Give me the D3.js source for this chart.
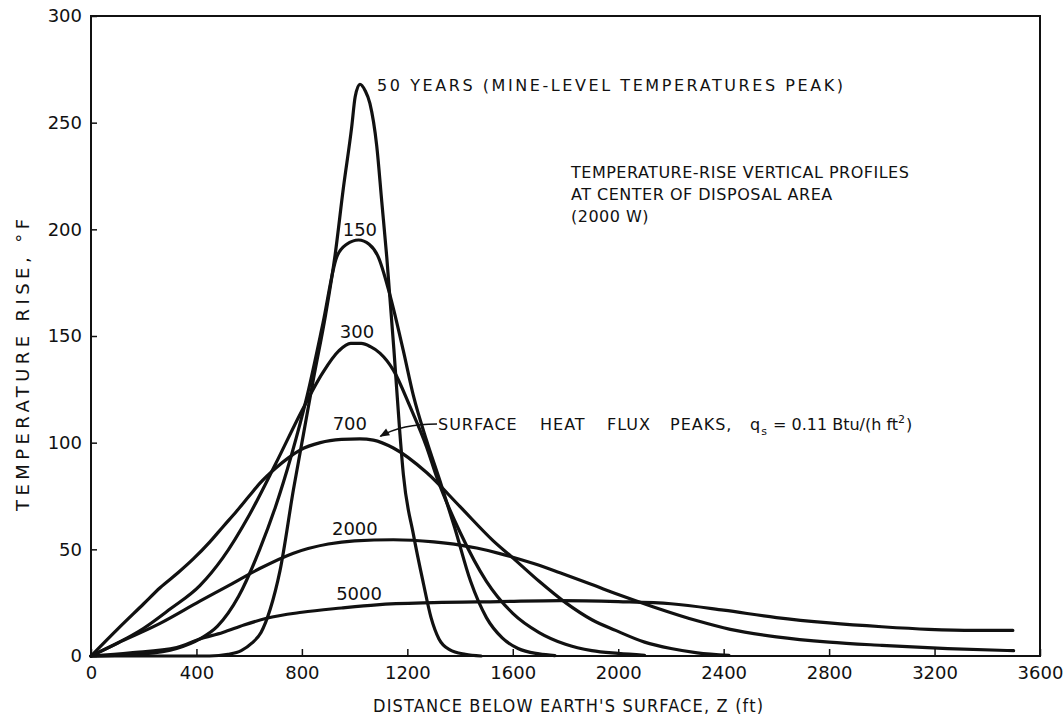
<!DOCTYPE html>
<html>
<head>
<meta charset="utf-8">
<script src="https://cdn.jsdelivr.net/npm/d3@7/dist/d3.min.js"></script>
<style>
  html, body { margin: 0; padding: 0; background: #fff; }
  svg { display: block; }
  text { font-family: "DejaVu Sans", sans-serif; fill: #111; }
</style>
</head>
<body>
<svg id="chart" width="1064" height="723"></svg>
<script>
// ---- Data ----
const depthTicks = [0, 400, 800, 1200, 1600, 2000, 2400, 2800, 3200, 3600];
const tempTicks = [0, 50, 100, 150, 200, 250, 300];

// [depth ft, temperature rise °F]
const yr50 = [[0,0],[450,0],[520,0.8],[570,2.5],[610,6],[645,11],[680,22],[717,40],[768,78],[806,104],[844,130],[890,160],[926,188],[957,219],[989,248],[1002,262],[1020,268],[1040,265],[1058,259],[1084,239],[1103,213],[1122,187],[1150,142],[1172,104],[1185,85],[1223,57],[1261,34],[1290,18],[1320,8],[1360,3],[1420,0.8],[1480,0]];
const yr150 = [[0,0],[200,1],[325,3.5],[413,8],[480,14],[560,28],[640,50],[700,70],[760,94],[820,122],[880,156],[932,187],[970,193],[1015,195],[1055,193],[1090,187],[1128,172],[1147,163],[1185,143],[1223,122],[1273,101],[1324,82],[1380,60],[1440,35],[1500,18],[1560,8.5],[1620,3.5],[1700,1],[1760,0.2]];
const yr300 = [[0,0],[100,6],[200,13],[300,22],[413,33],[500,46],[600,66],[700,90],[800,115],[880,133],[940,143],[985,146.5],[1025,146.5],[1060,145],[1096,142],[1147,134],[1210,117],[1273,98],[1311,84],[1400,58],[1500,35],[1600,20],[1700,11],[1800,5.5],[1900,2.5],[2000,1.2],[2100,0.3]];
const yr700 = [[0,0],[100,12.5],[200,24.5],[262,32],[330,39],[388,45.5],[451,53.5],[500,60.5],[553,68],[600,75],[641,81],[700,88],[750,93],[793,96.5],[870,100],[950,101.5],[1020,101.8],[1071,101.2],[1147,97.5],[1273,86],[1400,70],[1526,54],[1600,46],[1700,35],[1800,25],[1900,17],[1990,12],[2100,6.5],[2200,3.5],[2300,1.5],[2420,0.3]];
const yr2000 = [[0,0],[100,6],[262,15.3],[413,25.7],[515,32.5],[640,41],[768,48.2],[900,52.5],[1000,54],[1147,54.5],[1300,53.5],[1400,52],[1463,50.6],[1551,48],[1600,46.3],[1700,42.5],[1779,39],[1900,33.5],[2000,28.8],[2134,23],[2300,16.5],[2425,12.5],[2600,9],[2800,6.5],[3000,5],[3250,3.5],[3500,2.5]];
const yr5000 = [[0,0],[150,1.5],[325,4],[413,8],[500,11],[580,14.5],[666,17.7],[800,20.5],[950,22.5],[1084,24],[1300,25],[1551,25.5],[1779,26],[2000,25.5],[2200,24.5],[2400,21.5],[2600,18],[2800,15.5],[3000,13.7],[3177,12.5],[3350,12],[3497,12]];

const seriesList = [yr50, yr150, yr300, yr700, yr2000, yr5000];
const curveLabels = ["150", "300", "700", "2000", "5000"];
const labelAnchors = [[1020, 196.9], [1009, 149.1], [982, 105.9], [1001, 56.7], [1017, 26.3]];

// ---- Layout ----
const svg = d3.select("#chart");
const x = d3.scaleLinear().domain([0, 3600]).range([91, 1040]);
const y = d3.scaleLinear().domain([0, 300]).range([656, 16]);

// frame
svg.append("rect")
  .attr("x", x(0)).attr("y", y(300))
  .attr("width", x(3600) - x(0)).attr("height", y(0) - y(300))
  .attr("fill", "none").attr("stroke", "#111").attr("stroke-width", 2);

// axes
const yAxis = d3.axisLeft(y).tickValues(tempTicks).tickSize(-6).tickPadding(9).tickFormat(d3.format("d"));
const gy = svg.append("g").attr("transform", `translate(${x(0)},0)`).call(yAxis);
gy.select(".domain").remove();
gy.selectAll(".tick line").attr("stroke", "#111").attr("stroke-width", 1.5);
gy.selectAll(".tick text").style("font-size", "18px").attr("fill", "#111");

const xAxis = d3.axisBottom(x).tickValues(depthTicks).tickSize(-7).tickPadding(10).tickFormat(d3.format("d"));
const gx = svg.append("g").attr("transform", `translate(0,${y(0)})`).call(xAxis);
gx.select(".domain").remove();
gx.selectAll(".tick line").attr("stroke", "#111").attr("stroke-width", 1.5);
gx.selectAll(".tick text").style("font-size", "18px").attr("fill", "#111");

// curves
const line = d3.line().x(d => x(d[0])).y(d => y(d[1])).curve(d3.curveMonotoneX);
svg.append("g").selectAll("path").data(seriesList).join("path")
  .attr("d", line)
  .attr("fill", "none").attr("stroke", "#111").attr("stroke-width", 3.2)
  .attr("stroke-linejoin", "round").attr("stroke-linecap", "round");

// curve labels
svg.append("g").selectAll("text").data(curveLabels).join("text")
  .attr("x", (d, i) => x(labelAnchors[i][0]))
  .attr("y", (d, i) => y(labelAnchors[i][1]))
  .attr("text-anchor", "middle")
  .style("font-size", "18px")
  .text(d => d);

// 50-year annotation
svg.append("text")
  .attr("x", 377).attr("y", 91)
  .attr("textLength", 466).attr("lengthAdjust", "spacing")
  .style("font-size", "16px")
  .text("50 YEARS (MINE-LEVEL TEMPERATURES PEAK)");

// block note
const note = svg.append("text").style("font-size", "16px").style("letter-spacing", "0.5px");
["TEMPERATURE-RISE VERTICAL PROFILES", "AT CENTER OF DISPOSAL AREA", "(2000 W)"].forEach((t, i) => {
  note.append("tspan").attr("x", 571).attr("y", 178 + i * 22).text(t);
});

// surface heat flux annotation
const sf = svg.append("text").attr("y", 430).style("font-size", "16px").style("letter-spacing", "1px");
[["SURFACE", 438], ["HEAT", 540], ["FLUX", 607], ["PEAKS,", 670]].forEach(([w, px]) => {
  sf.append("tspan").attr("x", px).text(w);
});
sf.append("tspan").attr("x", 750).text("q");
sf.append("tspan").attr("dy", 5).style("font-size", "11px").text("s");
sf.append("tspan").attr("dy", -5).style("letter-spacing", "0px").text(" = 0.11 Btu/(h ft");
sf.append("tspan").attr("dy", -7).style("font-size", "11px").text("2");
sf.append("tspan").attr("dy", 7).text(")");

svg.append("defs").append("marker")
  .attr("id", "arr").attr("viewBox", "0 0 10 10").attr("refX", 9).attr("refY", 5)
  .attr("markerWidth", 9).attr("markerHeight", 7).attr("orient", "auto")
  .append("path").attr("d", "M0,1 L10,5 L0,9 Z").attr("fill", "#111");
const tip = [x(1090), y(103)];
svg.append("path")
  .attr("d", `M437,424 Q402,424 ${tip[0] + 2},${tip[1]}`)
  .attr("fill", "none").attr("stroke", "#111").attr("stroke-width", 1.4)
  .attr("marker-end", "url(#arr)");

// axis titles
svg.append("text")
  .attr("transform", "translate(29,365) rotate(-90)")
  .attr("text-anchor", "middle")
  .attr("textLength", 292).attr("lengthAdjust", "spacing")
  .style("font-size", "18px")
  .text("TEMPERATURE RISE, °F");

svg.append("text")
  .attr("x", 568).attr("y", 712)
  .attr("text-anchor", "middle")
  .attr("textLength", 390).attr("lengthAdjust", "spacing")
  .style("font-family", "'DejaVu Sans Condensed', 'Liberation Sans Narrow', sans-serif")
  .style("font-size", "18px")
  .text("DISTANCE BELOW EARTH'S SURFACE, Z (ft)");
</script>
</body>
</html>
